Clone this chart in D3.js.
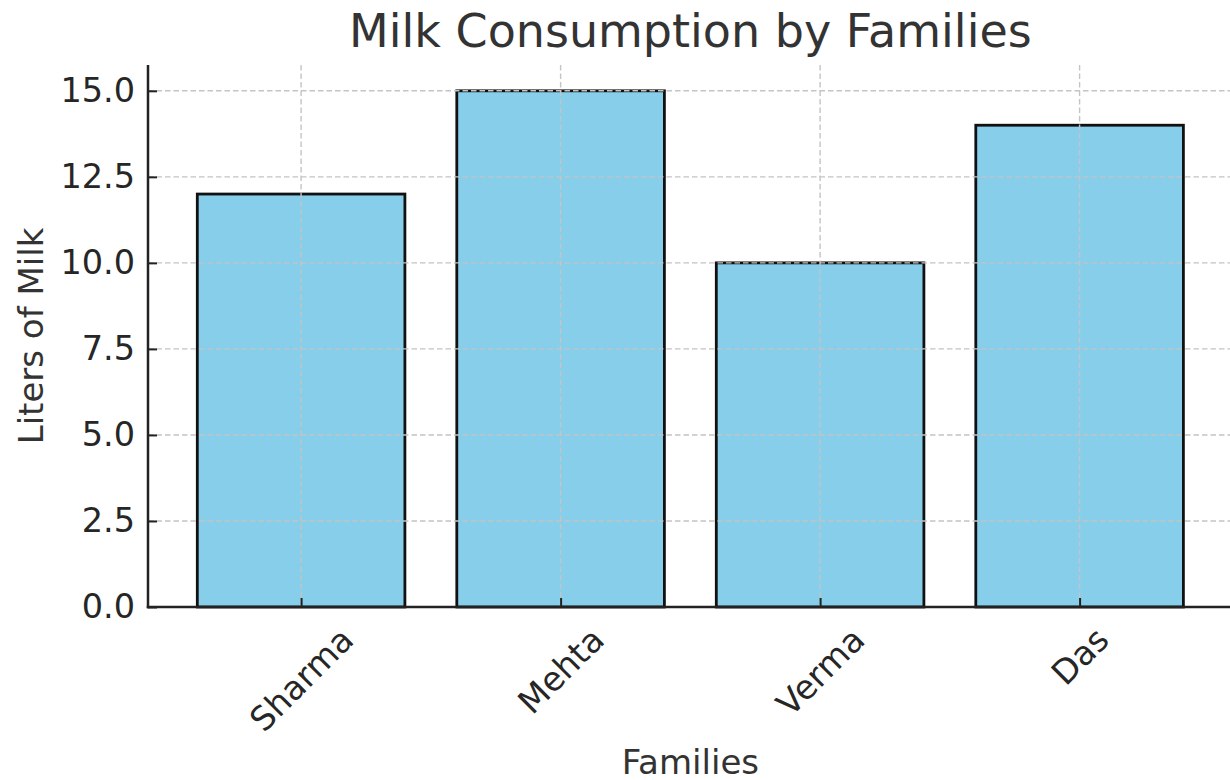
<!DOCTYPE html>
<html><head><meta charset="utf-8">
<script src="https://cdn.jsdelivr.net/npm/d3@7"></script>
<style>
html,body{margin:0;padding:0;background:#fff;}
svg{display:block;font-family:"DejaVu Sans",sans-serif;}
</style></head>
<body>
<svg id="chart" width="1230" height="780"></svg>
<script>
const families = ["Sharma", "Mehta", "Verma", "Das"];
const liters = [12, 15, 10, 14];
const yTicks = [0, 2.5, 5, 7.5, 10, 12.5, 15];
const title = "Milk Consumption by Families";
const xLabel = "Families";
const yLabel = "Liters of Milk";

(function () {
const svg = d3.select("#chart");
const mLeft = 148, mRight = 1232.7, mTop = 65, mBottom = 607;
const tickFont = 33.5, labelFont = 34, titleFont = 46;

const x = d3.scaleLinear().domain([-0.59, families.length - 1 + 0.59]).range([mLeft, mRight]);
const y = d3.scaleLinear().domain([0, 15.75]).range([mBottom, mTop]);
const barW = 0.8;

// bars
svg.append("g").selectAll("rect").data(liters).join("rect")
  .attr("x", (d, i) => x(i - barW / 2))
  .attr("width", (d, i) => x(i + barW / 2) - x(i - barW / 2))
  .attr("y", d => y(d))
  .attr("height", d => y(0) - y(d))
  .attr("fill", "#87ceeb")
  .attr("stroke", "#111")
  .attr("stroke-width", 2.8);

// grid (on top)
const grid = svg.append("g").attr("stroke", "#c4c4c4").attr("stroke-width", 1.4)
  .attr("stroke-dasharray", "5.5,3").attr("fill", "none");
grid.selectAll("line.h").data(yTicks).join("line").attr("class", "h")
  .attr("x1", mLeft).attr("x2", mRight).attr("y1", d => y(d)).attr("y2", d => y(d));
grid.selectAll("line.v").data(families).join("line").attr("class", "v")
  .attr("x1", (d, i) => x(i)).attr("x2", (d, i) => x(i)).attr("y1", mTop).attr("y2", mBottom);

// axes via d3
const yAxis = d3.axisLeft(y).tickValues(yTicks).tickFormat(d3.format(".1f")).tickSizeInner(-9).tickSizeOuter(0).tickPadding(13);
const gy = svg.append("g").attr("transform", `translate(${mLeft},0)`).call(yAxis);
gy.select(".domain").remove();
gy.selectAll(".tick line").attr("stroke", "#222").attr("stroke-width", 2);
gy.selectAll(".tick text").attr("font-size", tickFont).attr("fill", "#262626").attr("font-family", "DejaVu Sans");

const xAxis = d3.axisBottom(x).tickValues(d3.range(families.length)).tickFormat(i => families[i]).tickSizeInner(-9).tickSizeOuter(0);
const gx = svg.append("g").attr("transform", `translate(0,${mBottom})`).call(xAxis);
gx.select(".domain").remove();
gx.selectAll(".tick line").attr("stroke", "#222").attr("stroke-width", 2);
gx.selectAll(".tick text")
  .attr("font-size", tickFont).attr("fill", "#262626").attr("font-family", "DejaVu Sans")
  .attr("text-anchor", "middle").attr("dominant-baseline", "central").attr("dy", null)
  .each(function () {
    const t = d3.select(this);
    const w = this.getComputedTextLength();
    const h = tickFont * 1.0;
    const half = (w + h) * Math.SQRT1_2 / 2;
    t.attr("y", 0).attr("transform", `translate(0,${15 + half}) rotate(-45)`);
  });

// spines
svg.append("line").attr("x1", mLeft).attr("x2", mLeft).attr("y1", mTop).attr("y2", mBottom + 1.25)
  .attr("stroke", "#222").attr("stroke-width", 2.5);
svg.append("line").attr("x1", mLeft - 1.25).attr("x2", mRight).attr("y1", mBottom).attr("y2", mBottom)
  .attr("stroke", "#222").attr("stroke-width", 2.5);

// title and labels
svg.append("text").attr("x", (mLeft + mRight) / 2).attr("y", 47).attr("text-anchor", "middle")
  .attr("font-size", titleFont).attr("fill", "#333").text(title);
svg.append("text").attr("x", (mLeft + mRight) / 2).attr("y", 774).attr("text-anchor", "middle")
  .attr("font-size", labelFont).attr("fill", "#333").text(xLabel);
svg.append("text").attr("transform", `translate(43,${(mTop + mBottom) / 2}) rotate(-90)`).attr("text-anchor", "middle")
  .attr("font-size", labelFont).attr("fill", "#333").text(yLabel);
})();
</script>
</body></html>
